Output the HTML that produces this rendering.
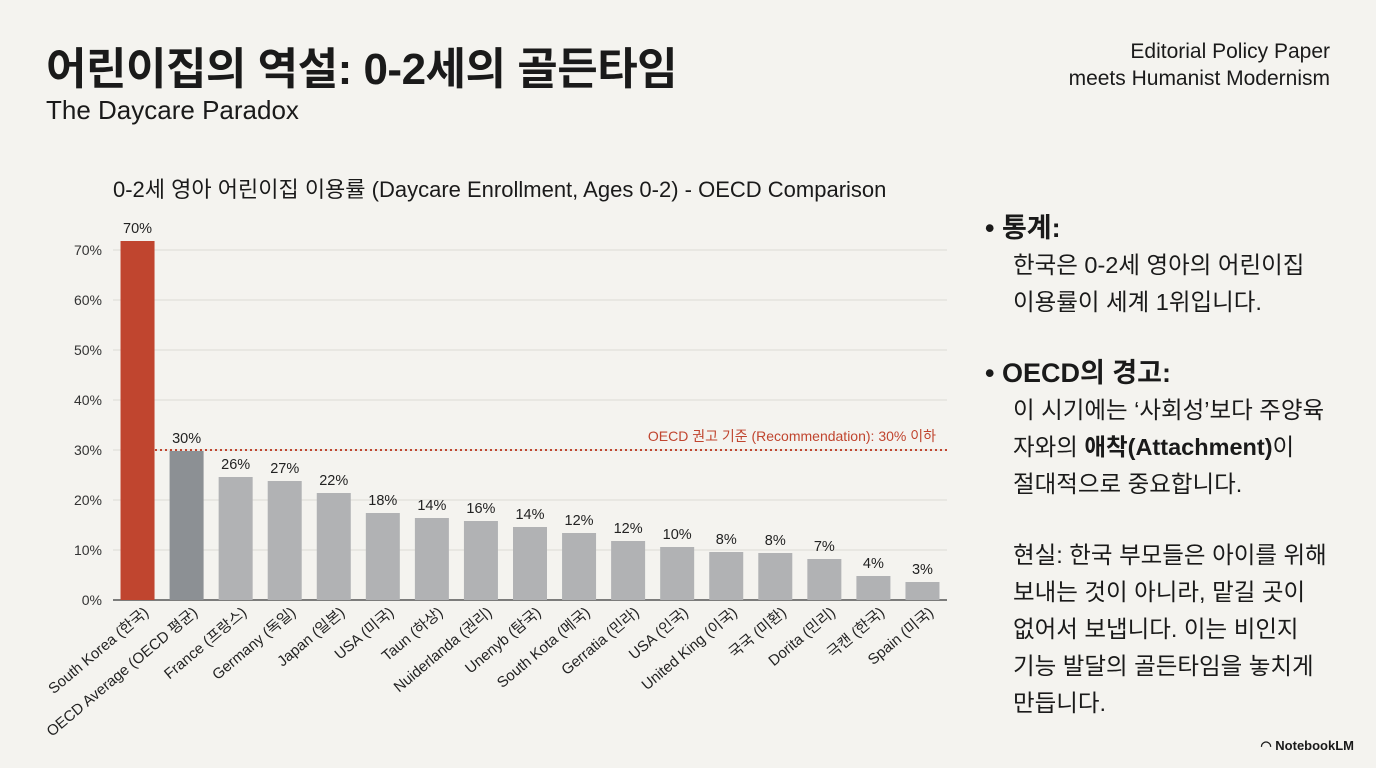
<!DOCTYPE html>
<html><head><meta charset="utf-8">
<style>
body{margin:0;width:1376px;height:768px;background:#f4f3ef;overflow:hidden;position:relative;font-family:"Liberation Sans","Noto Sans CJK KR",sans-serif;color:#1a1a1a}
.abs{position:absolute}
#title{left:46px;top:33px;font-size:44px;font-weight:bold;letter-spacing:-0.5px}
#sub{left:46px;top:95px;font-size:26px}
#tag{right:46px;top:38px;font-size:21px;text-align:right;line-height:27px}
#ctitle{left:113px;top:172px;font-size:22px}
#side{left:985px;top:210px;font-size:23.5px;line-height:37px}
.hd{font-size:27px;font-weight:bold}
.ind{padding-left:28px}
#nlm{right:22px;bottom:14px;font-size:13px;font-weight:bold}
</style></head><body>
<div class="abs" id="title">어린이집의 역설: 0-2세의 골든타임</div>
<div class="abs" id="sub">The Daycare Paradox</div>
<div class="abs" id="tag">Editorial Policy Paper<br>meets Humanist Modernism</div>
<div class="abs" id="ctitle">0-2세 영아 어린이집 이용률 (Daycare Enrollment, Ages 0-2) - OECD Comparison</div>
<svg class="abs" style="left:0;top:0" width="980" height="768" id="chart"></svg>
<div class="abs" id="side">
<div class="hd">• 통계:</div>
<div class="ind">한국은 0-2세 영아의 어린이집<br>이용률이 세계 1위입니다.</div>
<div class="hd" style="margin-top:34px">• OECD의 경고:</div>
<div class="ind">이 시기에는 ‘사회성’보다 주양육<br>자와의 <b>애착(Attachment)</b>이<br>절대적으로 중요합니다.</div>
<div class="ind" style="margin-top:34px">현실: 한국 부모들은 아이를 위해<br>보내는 것이 아니라, 맡길 곳이<br>없어서 보냅니다. 이는 비인지<br>기능 발달의 골든타임을 놓치게<br>만듭니다.</div>
</div>
<div class="abs" id="nlm">◠ NotebookLM</div>
<script>
const categories=["South Korea (한국)","OECD Average (OECD 평균)","France (프랑스)","Germany (독일)","Japan (일본)","USA (미국)","Taun (하상)","Nuiderlanda (권리)","Unenyb (탐국)","South Kota (메국)","Gerratia (민라)","USA (인국)","United King (이국)","국국 (미환)","Dorita (민리)","극캔 (한국)","Spain (미국)"];
const values=[71.8,29.8,24.6,23.8,21.4,17.4,16.4,15.8,14.6,13.4,11.8,10.6,9.6,9.4,8.2,4.8,3.6];
const valueLabels=["70%","30%","26%","27%","22%","18%","14%","16%","14%","12%","12%","10%","8%","8%","7%","4%","3%"];
const ticks=[0,10,20,30,40,50,60,70];
const refLine=30;
const svg=document.getElementById('chart');const NS='http://www.w3.org/2000/svg';
const x0=113,x1=947,y0=600,pxPer=5;
const y=v=>y0-v*pxPer;const step=(x1-x0)/categories.length;const xc=i=>x0+step*(i+0.5);
function mk(t,a){const e=document.createElementNS(NS,t);for(const k in a)e.setAttribute(k,a[k]);svg.appendChild(e);return e;}
ticks.forEach(t=>{
 const g=mk('line',{x1:x0,x2:x1,y1:y(t),y2:y(t),stroke:t?'#dcdbd6':'#555','stroke-width':t?1:1.5});
 
 
 const l=mk('text',{x:102,y:y(t)+5,'text-anchor':'end','font-size':14,fill:'#333'});l.textContent=t+'%';
 
 
});
values.forEach((v,i)=>{
 const c=i==0?'#c0452f':(i==1?'#8c9094':'#b1b2b4');
 const r=mk('rect',{x:xc(i)-17,y:y(v),width:34,height:v*pxPer,fill:c});
 
 
 const t=mk('text',{x:xc(i),y:y(v)-8,'text-anchor':'middle','font-size':14.5,fill:'#222'});t.textContent=valueLabels[i];
 
 
 const c2=mk('text',{x:xc(i)+12,y:614,'text-anchor':'end','font-size':15,fill:'#222',transform:`rotate(-40 ${xc(i)+12} 614)`});c2.textContent=categories[i];
 
 
});
const rl=mk('line',{x1:155,x2:x1,y1:y(refLine),y2:y(refLine),stroke:'#c0452f','stroke-width':2,'stroke-dasharray':'2 3'});


const rt=mk('text',{x:936,y:y(refLine)-9,'text-anchor':'end','font-size':14,fill:'#c0452f'});rt.textContent='OECD 권고 기준 (Recommendation): 30% 이하';


</script>
</body></html>
